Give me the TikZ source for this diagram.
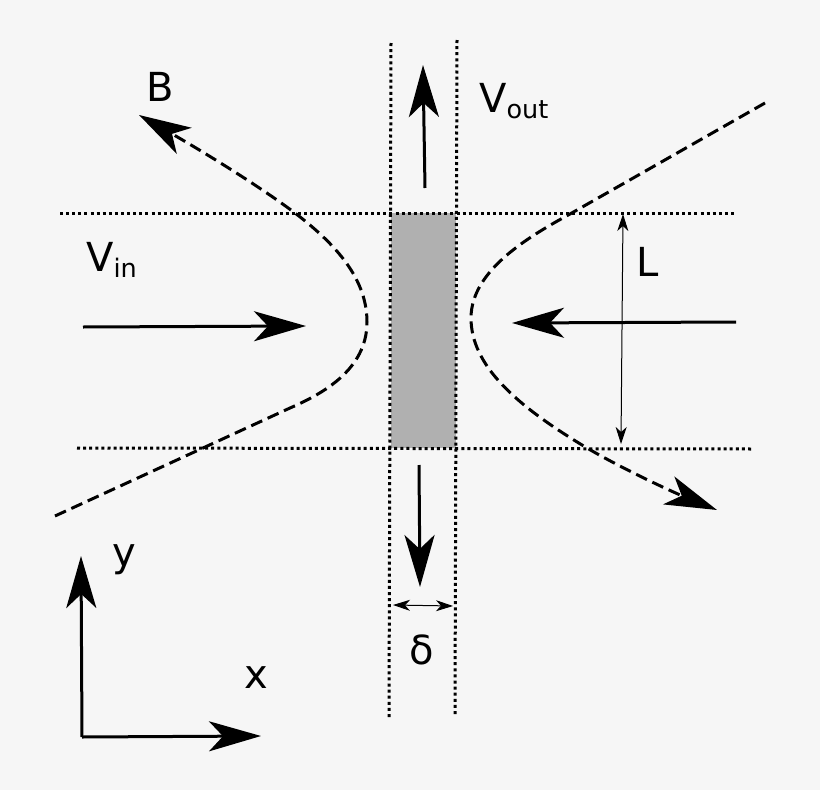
\documentclass[tikz,border=0pt]{standalone}
\usepackage{fontspec}
\setmainfont{DejaVu Sans}
\usetikzlibrary{arrows.meta}
\definecolor{bgc}{HTML}{F6F6F6}
\definecolor{barc}{HTML}{B0B0B0}
\tikzset{
  bigline/.style={line width=3pt,-{Stealth[length=52pt,width=30pt,inset=14pt]}},
  fieldline/.style={line width=3pt,dash pattern=on 12pt off 6pt,-{Stealth[length=52pt,width=30pt,inset=14pt]}},
  guide/.style={line width=3pt,dash pattern=on 3pt off 3.1pt},
  dimline/.style={line width=1pt,{Stealth[length=17pt,width=11pt,inset=5pt]}-{Stealth[length=17pt,width=11pt,inset=5pt]}},
  lab/.style={inner sep=0pt,font=\fontsize{40pt}{40pt}\selectfont,text=black,anchor=base}
}
\newcommand{\subt}[1]{\raisebox{-6pt}{\fontsize{25.5pt}{25.5pt}\selectfont #1}}
\begin{document}
\begin{tikzpicture}[x=1pt,y=-1pt]
\fill[bgc] (0,0) rectangle (820,790);
\useasboundingbox (0,0) rectangle (820,790);
% bar
\node[fill=barc,draw=none,minimum width=65pt,minimum height=235pt,inner sep=0pt,anchor=north west] (bar) at (391,213) {};
% guides
\coordinate (tl) at (60,213); \coordinate (tr) at (736,213);
\coordinate (bl) at (77,448); \coordinate (br) at (753,449);
\coordinate (lt) at (391,43); \coordinate (lb) at (389,719);
\coordinate (rt) at (457,40); \coordinate (rb) at (455,716);
\draw[guide] (tl) -- (tr);
\draw[guide] (bl) -- (br);
\draw[guide] (lt) -- (lb);
\draw[guide] (rt) -- (rb);
% left field line
\coordinate (la) at (55,516);
\coordinate (lm) at (367,322);
\coordinate (lt1) at (139,115);
\draw[fieldline] (la) -- (290,408)
  .. controls (322,394) and (367,370) .. (lm)
  .. controls (367,275) and (330,240) .. (295,213)
  .. controls (255,183) and (195,147) .. (lt1);
% right field line
\coordinate (ra) at (765,103);
\coordinate (rm) at (471,318);
\coordinate (rt1) at (717,510);
\draw[fieldline] (ra) -- (570,214)
  .. controls (530,236) and (471,270) .. (rm)
  .. controls (471,365) and (515,405) .. (587,448)
  .. controls (630,473) and (680,495) .. (rt1);
% flow arrows
\coordinate (vina) at (83,327); \coordinate (vinb) at (306,326);
\coordinate (vra) at (736,322); \coordinate (vrb) at (512,323);
\coordinate (vua) at (425,188); \coordinate (vub) at (423,65);
\coordinate (vda) at (419,465); \coordinate (vdb) at (420,587);
\coordinate (axo) at (82,737); \coordinate (axx) at (261,736); \coordinate (axy) at (81,556);
\draw[bigline] (vina) -- (vinb);
\draw[bigline] (vra) -- (vrb);
\draw[bigline] (vua) -- (vub);
\draw[bigline] (vda) -- (vdb);
\draw[bigline] (axo) -- (axx);
\draw[bigline] (axo) -- (axy);
% dimensions
\coordinate (la1) at (623,214); \coordinate (la2) at (621,444);
\coordinate (da1) at (393,605); \coordinate (da2) at (453,606);
\draw[dimline] (la1) -- (la2);
\draw[dimline] (da1) -- (da2);
% labels
\node[lab] (tB) at (160,101) {B};
\node[lab,anchor=base west] (tVin) at (86,271) {V\subt{in}};
\node[lab,anchor=base west] (tVout) at (479,112) {V\subt{out}};
\node[lab] (tL) at (648,276) {L};
\node[lab] (tdelta) at (422,664) {δ};
\node[lab] (tx) at (256,688) {x};
\node[lab] (ty) at (124,566) {y};
\end{tikzpicture}
\end{document}
